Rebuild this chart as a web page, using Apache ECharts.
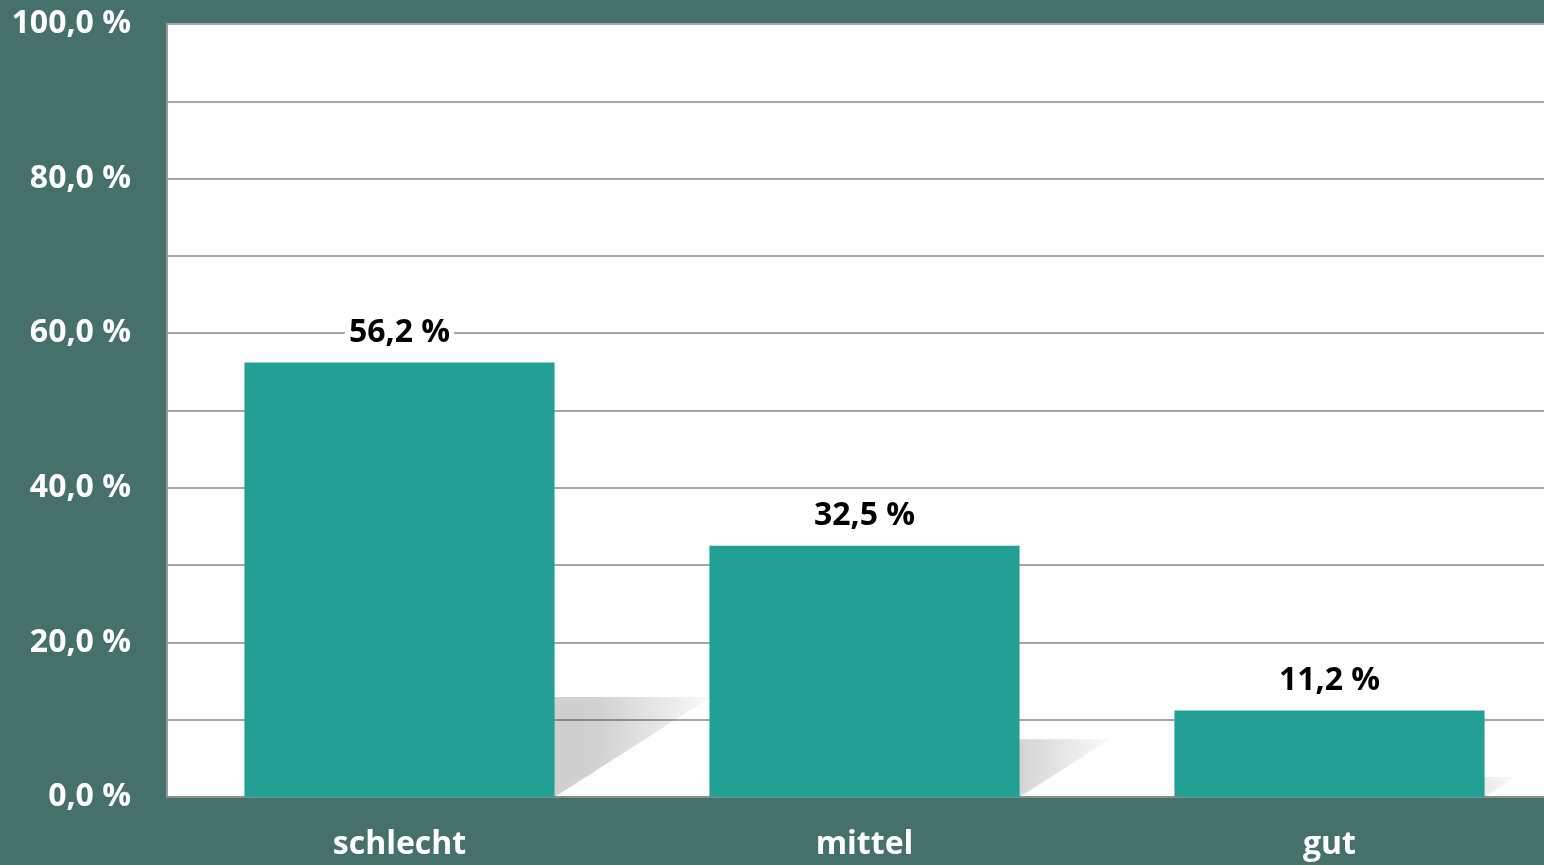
<!DOCTYPE html>
<html>
<head>
<meta charset="utf-8">
<script src="https://cdn.jsdelivr.net/npm/echarts@6/dist/echarts.min.js"></script>
<style>
  html, body { margin: 0; padding: 0; background: #46716b; }
  #chart { width: 1544px; height: 865px; }
</style>
</head>
<body>
<div id="chart"></div>
<script>
// Daten
var categories = ['schlecht', 'mittel', 'gut'];
var values = [56.2, 32.5, 11.2];

var chart = echarts.init(document.getElementById('chart'));

function fmt(v) {
    return v.toFixed(1).replace('.', ',') + ' %';
}

// Schatten hinter den Balken
function renderShadow(params, api) {
    var idx = api.value(0);
    var v = api.value(1);
    var base = api.coord([idx, 0]);
    var top = api.coord([idx, v]);
    var h = base[1] - top[1];
    var bw = api.size([1, 0])[0] * 0.667;
    var x0 = base[0] - bw / 2;
    var x1 = x0 + bw;
    var sh = h * 0.23;
    var shift = h * 0.36;
    return {
        type: 'polygon',
        shape: {
            points: [[x0, base[1]], [x1, base[1]], [x1 + shift, base[1] - sh], [x0 + shift, base[1] - sh]]
        },
        style: {
            fill: {
                type: 'linear', x: 0, y: 0, x2: 1, y2: 0,
                colorStops: [
                    { offset: 0, color: 'rgba(0,0,0,0.22)' },
                    { offset: 0.75, color: 'rgba(0,0,0,0.17)' },
                    { offset: 1, color: 'rgba(0,0,0,0.02)' }
                ]
            },
            shadowBlur: 10,
            shadowColor: 'rgba(0,0,0,0.12)'
        }
    };
}

chart.setOption({
    backgroundColor: '#46716b',
    animation: false,
    grid: {
        left: 167,
        width: 1395,
        top: 24,
        bottom: 68,
        outerBoundsMode: 'none',
        containLabel: false,
        backgroundColor: '#ffffff',
        show: true,
        borderWidth: 0
    },
    xAxis: {
        type: 'category',
        data: categories,
        axisLine: { show: true, lineStyle: { color: '#8c8c8c', width: 2 } },
        axisTick: { show: false },
        axisLabel: {
            color: '#ffffff',
            fontFamily: 'Open Sans',
            fontWeight: 'bold',
            fontSize: 32,
            margin: 32
        }
    },
    yAxis: {
        type: 'value',
        min: 0,
        max: 100,
        interval: 10,
        axisLine: { show: true, lineStyle: { color: '#999999', width: 2 } },
        axisTick: { show: false },
        splitLine: { lineStyle: { color: '#a6a6a6', width: 2 } },
        axisLabel: {
            color: '#ffffff',
            fontFamily: 'Open Sans',
            fontWeight: 'bold',
            fontSize: 32,
            margin: 36,
            formatter: function (v) {
                return v % 20 === 0 ? fmt(v) : '';
            }
        }
    },
    series: [
        {
            type: 'custom',
            renderItem: renderShadow,
            data: values.map(function (v, i) { return [i, v]; }),
            z: 1,
            silent: true
        },
        {
            type: 'bar',
            data: values,
            barWidth: '66.7%',
            z: 3,
            itemStyle: { color: '#22a093' },
            label: {
                show: true,
                position: 'top',
                distance: 14,
                color: '#000000',
                fontFamily: 'Open Sans',
                fontWeight: 'bold',
                fontSize: 32,
                backgroundColor: '#ffffff',
                padding: [0, 4],
                formatter: function (p) { return fmt(p.value); }
            }
        }
    ]
});
</script>
</body>
</html>
